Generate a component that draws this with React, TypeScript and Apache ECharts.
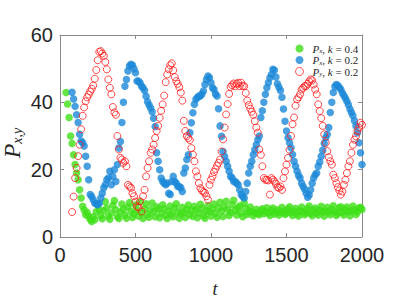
import React, { useEffect, useRef } from "react";
import * as echarts from "echarts";

// Sampling grid of the time axis
const T_STEP = 10;
const GREEN_T0 = 40;
const BLUE_T0 = 80;
const RED_T0 = 80;

const xTickInterval = 500;
const yTickInterval = 20;

const seriesNames = ["P_x, k = 0.4", "P_x, k = 0.2", "P_y, k = 0.2"];

// P_x, k = 0.4 (green), t = 40 .. 2000
const greenValues = [
  42.9, 39.5, 35.5, 30, 27.8, 24.4, 21.5, 19, 17, 14,
  11.6, 9.1, 8, 6.6, 7.3, 6.1, 5.2, 4.6, 6, 5.1,
  7.5, 9.6, 8.2, 6.3, 5.4, 7.8, 10.5, 8.6, 6.2, 5.3,
  7.1, 9.4, 10.8, 8.1, 6, 5.5, 7.4, 9.8, 8.3, 6.5,
  5.6, 8.9, 10.2, 7.6, 5.8, 6.9, 9.5, 8, 6.2, 10.4,
  7.2, 5.5, 8.4, 9.9, 6.7, 5.9, 8.1, 10.1, 7.5, 6,
  9, 8.3, 5.7, 7.1, 9.6, 8.4, 6.4, 5.5, 7.7, 9.2,
  6.8, 6, 8.7, 9.9, 7.4, 5.6, 6.9, 8.8, 7.3, 5.8,
  8.2, 9.5, 6.6, 7.9, 6.1, 9.1, 8, 5.7, 7.2, 9.7,
  8.5, 6.3, 5.6, 7.8, 9.3, 7.5, 6.2, 8.4, 9.8, 7,
  5.9, 8.6, 10.3, 7.7, 6.1, 8.9, 10.6, 8.2, 6.4, 7.3,
  9.6, 10.9, 7.9, 6.5, 8.7, 9.3, 7.1, 6, 10.2, 8.5,
  6.7, 7.4, 8.9, 7.6, 6.3, 7.1, 8.2, 7, 6.6, 7.8,
  8.4, 6.9, 7.5, 8.7, 7.2, 6.4, 7.9, 8.6, 6.8, 7.4,
  8.1, 6.5, 7.3, 8.8, 7.6, 6.7, 7.1, 8.3, 9, 7.2,
  6.4, 7.7, 8.5, 6.9, 6.2, 7.8, 8.9, 7.5, 6.6, 7.2,
  8.4, 9.2, 7, 6.3, 7.9, 8.6, 7.1, 6.5, 8, 9.1,
  7.4, 6.2, 7.7, 8.8, 7.3, 6.6, 8.2, 9.3, 7.5, 6.4,
  7.1, 8.7, 9, 7.2, 6.5, 8.1, 8.9, 7.6, 6.3, 7.8,
  9.2, 8, 6.7, 7.4, 8.6, 8.8, 8.2,
];

// P_x, k = 0.2 (blue), t = 80 .. 2000
const blueValues = [
  43, 41, 38.8, 36.3, 34, 30.5, 28.5, 28, 27, 24,
  21, 17, 12.6, 12, 11.1, 10.1, 9.8, 9.6, 10, 11.6,
  13, 14.6, 15.5, 17, 17.5, 19.5, 15.5, 18, 20, 16.5,
  21.5, 26.4, 28.4, 34, 40, 44.8, 46.8, 49.3, 50.8, 51.3,
  51, 50, 48.8, 46.3, 46.3, 45.8, 44.8, 44.3, 43.5, 41.8,
  40.2, 39.2, 38.3, 37.2, 35.3, 32.8, 25, 22.5, 20, 17.5,
  16.5, 16, 15.5, 16, 13, 12.6, 16.5, 18, 16.5, 16,
  15, 15, 14.6, 13.5, 19, 20.5, 23, 24.4, 31, 33.9,
  36.9, 39.4, 40.9, 41.4, 41.9, 41.9, 42.5, 43.4, 45.3, 46.8,
  47.8, 47.3, 45.8, 44.3, 43.8, 42.5, 41.9, 38.1, 33, 29.9,
  25.4, 23.9, 22.5, 21, 19.5, 18, 17.5, 16.5, 16.5, 16,
  15.5, 14, 12.6, 12, 11.6, 13.5, 16, 19, 21, 22.5,
  24.4, 25.9, 27.4, 28.9, 30, 35.5, 37.5, 40, 42.4, 44.3,
  45.8, 47.3, 48.3, 49.8, 49.5, 47.5, 45.5, 44.5, 43.5, 41.5,
  38, 34.4, 31.5, 29.5, 28, 26.5, 24.5, 22.5, 21, 19.5,
  18.3, 17.5, 16, 15, 14.2, 13, 11.8, 12.5, 14, 16,
  17.5, 18.5, 19, 21, 22.3, 24, 25.8, 27.8, 29.5, 30.5,
  32.5, 37, 40, 42.9, 44.7, 45.3, 45, 44.4, 43.8, 42.8,
  42, 41.2, 40.3, 39.3, 38, 37, 36, 34.5, 33, 31,
  28, 25, 21.5,
];

// P_y, k = 0.2 (red, hollow), t = 80 .. 2000
const redValues = [
  7.4, 12, 17.5, 20.5, 24, 27.4, 32, 36, 38.5, 40.3,
  41.5, 42.3, 43.2, 44, 45, 47, 49.6, 52.5, 55, 55.2,
  54.5, 53.8, 52, 49.8, 46.8, 44.3, 42.4, 38.6, 37, 36.3,
  30, 26, 23.5, 23, 22, 22.5, 21, 15.5, 15, 14.6,
  13, 12.1, 10.5, 9.1, 8.8, 10.6, 7.6, 12.1, 14, 18,
  20.5, 22.5, 25, 26, 27.4, 29.4, 31.5, 33, 35.4, 37.5,
  39.4, 42, 46, 48.3, 49.8, 51, 51.6, 49.5, 47.5, 46.3,
  45.5, 44.5, 42.9, 40.5, 34.5, 31.5, 30, 29.4, 28.8, 26.4,
  24.5, 22.5, 19.5, 18, 16, 14.5, 13.8, 13.4, 13.1, 12.1,
  11.1, 15.5, 17, 18, 19.3, 20.2, 21.2, 22, 23, 25.4,
  29, 32.5, 36.4, 39.5, 42.5, 44.6, 45.1, 45.6, 44.8, 45.5,
  45.8, 44.8, 45.8, 44.9, 44.8, 42.8, 40.5, 39.2, 38.1, 37.2,
  36.3, 34.4, 32.5, 31, 26, 24.4, 21, 17.5, 17, 17,
  16.8, 12.6, 17.5, 17, 16.5, 15.8, 14.8, 14.6, 15, 14,
  17.5, 19.5, 21.5, 23.5, 25.9, 30, 33.5, 35.5, 39, 40.9,
  41.5, 42.4, 43.8, 44.3, 44.8, 44.8, 45.5, 46.2, 46.8, 46.5,
  45.3, 43.8, 42.4, 39.4, 37.4, 35.3, 33, 30.5, 28, 25.5,
  23.7, 22.5, 21.5, 18.5, 17.5, 16, 14.8, 13.8, 12.6, 13.5,
  15.5, 17, 19, 21, 22.5, 25, 27.4, 28.9, 29.9, 31.5,
  32.5, 33.9, 33.3,
];

const GREEN = "#3fe016";
const BLUE = "#1c88d8";
const RED = "#ff1c1c";
const FRAME = "#8a8a8a";
const INK = "#262626";

const toPairs = (t0: number, vals: number[]) => vals.map((v, i) => [t0 + i * T_STEP, v]);

const legendRich = {
  i: { fontFamily: "Liberation Serif", fontStyle: "italic", fontSize: 11, color: INK, lineHeight: 12 },
  s: { fontFamily: "Liberation Serif", fontStyle: "italic", fontSize: 7, color: INK, lineHeight: 6, verticalAlign: "bottom" },
  n: { fontFamily: "Liberation Serif", fontSize: 11, color: INK, lineHeight: 12 },
};

const legendLabel = (name: string) => {
  const m = name.match(/^P_(\w), k = ([\d.]+)$/);
  if (!m) return name;
  return `{i|P}{s|${m[1]}}{n|, }{i|k}{n| = ${m[2]}}`;
};

export default function App() {
  const ref = useRef<HTMLDivElement>(null);
  useEffect(() => {
    document.body.style.margin = "0";
    if (!ref.current) return;
    const chart = echarts.init(ref.current, undefined, { renderer: "svg" });

    const xBase = {
      type: "value" as const,
      min: 0,
      max: 2000,
      interval: xTickInterval,
      axisLine: { show: true, onZero: false, lineStyle: { color: FRAME, width: 1 } },
      axisTick: { show: true, inside: true, length: 4, lineStyle: { color: FRAME } },
      splitLine: { show: false },
    };
    const yBase = {
      type: "value" as const,
      min: 0,
      max: 60,
      interval: yTickInterval,
      axisLine: { show: true, onZero: false, lineStyle: { color: FRAME, width: 1 } },
      axisTick: { show: true, inside: true, length: 4, lineStyle: { color: FRAME } },
      splitLine: { show: false },
    };
    const labelStyle = {
      fontSize: 20,
      color: INK,
      fontFamily: "Liberation Sans",
      formatter: (v: number) => String(v),
    };

    chart.setOption({
      animation: false,
      backgroundColor: "#ffffff",
      grid: { left: 60, right: 37, top: 35, bottom: 62, containLabel: false },
      xAxis: [
        { ...xBase, position: "bottom", axisLabel: { ...labelStyle, margin: 8 } },
        { ...xBase, position: "top", axisLabel: { show: false } },
      ],
      yAxis: [
        { ...yBase, position: "left", axisLabel: { ...labelStyle, margin: 7 } },
        { ...yBase, position: "right", axisLabel: { show: false } },
      ],
      legend: {
        orient: "vertical",
        left: 290,
        top: 38,
        itemWidth: 8,
        itemHeight: 8,
        itemGap: 0,
        selectedMode: false,
        formatter: legendLabel,
        textStyle: { rich: legendRich, padding: [0, 0, 0, 4] },
        data: [
          { name: seriesNames[0], icon: "circle", itemStyle: { color: GREEN } },
          { name: seriesNames[1], icon: "circle", itemStyle: { color: BLUE } },
          {
            name: seriesNames[2],
            icon: "circle",
            itemStyle: { color: "rgba(0,0,0,0)", borderColor: RED, borderWidth: 1 },
          },
        ],
      },
      graphic: [
        {
          type: "text",
          x: 12,
          y: 143,
          rotation: Math.PI / 2,
          style: {
            text: "{p|P}{s|x,y}",
            align: "center",
            verticalAlign: "middle",
            rich: {
              p: { fontFamily: "Liberation Serif", fontStyle: "italic", fontSize: 24, fill: INK, lineHeight: 24 },
              s: {
                fontFamily: "Liberation Serif",
                fontStyle: "italic",
                fontSize: 14,
                fill: INK,
                lineHeight: 12,
                verticalAlign: "bottom",
              },
            },
          },
        },
        {
          type: "text",
          x: 215,
          y: 289,
          style: {
            text: "t",
            fontFamily: "Liberation Serif",
            fontStyle: "italic",
            fontSize: 18,
            fill: INK,
            align: "center",
            verticalAlign: "middle",
          },
        },
      ],
      series: [
        {
          type: "scatter",
          name: seriesNames[0],
          data: toPairs(GREEN_T0, greenValues),
          symbol: "circle",
          symbolSize: 7.5,
          itemStyle: { color: GREEN },
          emphasis: { disabled: true },
        },
        {
          type: "scatter",
          name: seriesNames[1],
          data: toPairs(BLUE_T0, blueValues),
          symbol: "circle",
          symbolSize: 7.5,
          itemStyle: { color: BLUE },
          emphasis: { disabled: true },
        },
        {
          type: "scatter",
          name: seriesNames[2],
          data: toPairs(RED_T0, redValues),
          symbol: "circle",
          symbolSize: 7,
          itemStyle: { color: "rgba(0,0,0,0)", borderColor: RED, borderWidth: 1 },
          emphasis: { disabled: true },
        },
      ],
    });
    return () => chart.dispose();
  }, []);
  return <div ref={ref} style={{ position: "absolute", left: 0, top: 0, width: 399, height: 299 }} />;
}
